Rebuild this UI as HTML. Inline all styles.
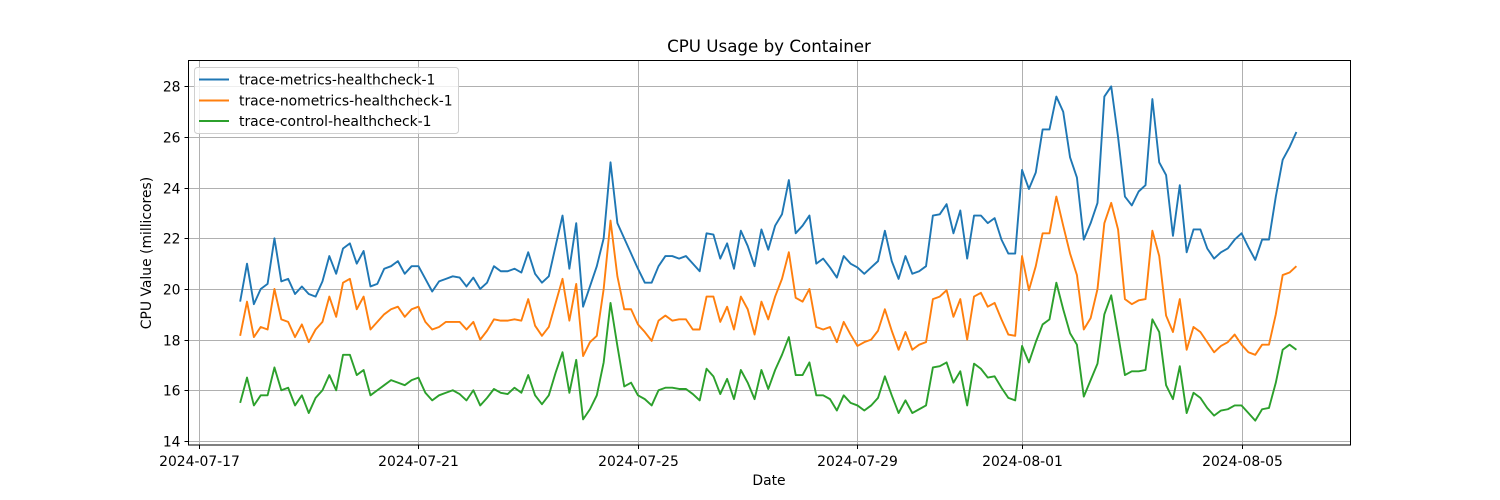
<!DOCTYPE html>
<html><head><meta charset="utf-8"><style>
html,body{margin:0;padding:0;background:#fff;}
svg{display:block;font-family:"DejaVu Sans","Liberation Sans",sans-serif;}
</style></head><body>
<svg id="chart" width="1500" height="500" viewBox="0 0 1500 500">
<rect x="0" y="0" width="1500" height="500" fill="#fff"/>
<g id="grid"></g>
<g id="series"></g>
<rect x="188.5" y="60.5" width="1162" height="384.5" fill="none" stroke="#000" stroke-width="1"/>
<g id="ticks"></g>
<text x="769" y="52" text-anchor="middle" font-size="16.7" fill="#000">CPU Usage by Container</text>
<text x="769" y="485" text-anchor="middle" font-size="13.9" fill="#000">Date</text>
<text x="151" y="253" text-anchor="middle" font-size="13.9" fill="#000" transform="rotate(-90 151 253)">CPU Value (millicores)</text>
<g>
<rect x="194.5" y="67.5" width="264" height="66" rx="3" fill="#fff" fill-opacity="0.8" stroke="#d0d0d0" stroke-width="1"/>
<g><line x1="199" y1="79.5" x2="229" y2="79.5" stroke="#1f77b4" stroke-width="2"/><text x="239" y="84.5" font-size="13.9" fill="#000">trace-metrics-healthcheck-1</text></g>
<g><line x1="199" y1="100.5" x2="229" y2="100.5" stroke="#ff7f0e" stroke-width="2"/><text x="239" y="105.5" font-size="13.9" fill="#000">trace-nometrics-healthcheck-1</text></g>
<g><line x1="199" y1="121" x2="229" y2="121" stroke="#2ca02c" stroke-width="2"/><text x="239" y="126" font-size="13.9" fill="#000">trace-control-healthcheck-1</text></g>
</g>
</svg>
<script>
const startTime = "2024-07-17T18:00"; // first sample, 3-hour interval
const stepHours = 3;
const metrics = [19.5,21.0,19.4,20.0,20.2,22.0,20.3,20.4,19.8,20.1,19.8,19.7,20.3,21.3,20.6,21.6,21.8,21.0,21.5,20.1,20.2,20.8,20.9,21.1,20.6,20.9,20.9,20.4,19.9,20.3,20.4,
20.5,20.45,20.1,20.45,20.0,20.25,20.9,20.7,20.7,20.8,20.65,21.45,20.6,20.25,20.5,21.7,22.9,20.8,22.6,19.3,20.1,20.9,22.0,25.0,22.6,22.0,21.4,20.8,20.25,20.25,
20.9,21.3,21.3,21.2,21.3,21.0,20.7,22.2,22.15,21.2,21.8,20.8,22.3,21.7,20.9,22.35,21.55,22.5,22.95,24.3,22.2,22.5,22.9,21.0,21.2,20.85,20.45,21.3,21.0,20.85,20.6,
20.85,21.1,22.3,21.1,20.4,21.3,20.6,20.7,20.9,22.9,22.95,23.35,22.2,23.1,21.2,22.9,22.9,22.6,22.8,21.95,21.4,21.4,24.7,23.95,24.6,26.3,26.3,27.6,27.0,
25.2,24.4,21.95,22.6,23.4,27.6,28.0,26.0,23.65,23.3,23.85,24.1,27.5,25.0,24.5,22.1,24.1,21.45,22.35,22.35,21.6,21.2,21.45,21.6,21.95,22.2,21.65,21.15,21.95,21.95,23.65,25.1,25.6,26.2];
const nometrics = [18.15,19.5,18.1,18.5,18.4,20.0,18.8,18.7,18.1,18.6,17.9,18.4,18.7,19.7,18.9,20.25,20.4,19.2,19.7,18.4,18.7,19.0,19.2,19.3,18.9,19.2,19.3,18.7,18.4,18.5,18.7,
18.7,18.7,18.4,18.7,18.0,18.35,18.8,18.75,18.75,18.8,18.75,19.6,18.55,18.15,18.5,19.45,20.4,18.75,20.2,17.35,17.9,18.15,20.0,22.7,20.5,19.2,19.2,18.6,18.3,17.95,
18.75,18.95,18.75,18.8,18.8,18.4,18.4,19.7,19.7,18.7,19.3,18.4,19.7,19.2,18.2,19.5,18.8,19.7,20.4,21.45,19.65,19.5,20.0,18.5,18.4,18.5,17.9,18.7,18.2,17.75,17.9,
18.0,18.35,19.2,18.35,17.6,18.3,17.6,17.8,17.9,19.6,19.7,19.95,18.9,19.6,18.0,19.7,19.85,19.3,19.45,18.8,18.2,18.15,21.3,19.95,20.9,22.2,22.2,23.65,22.5,
21.4,20.55,18.4,18.85,20.0,22.6,23.4,22.35,19.6,19.4,19.55,19.6,22.3,21.3,18.95,18.3,19.6,17.6,18.5,18.3,17.9,17.5,17.75,17.9,18.2,17.8,17.5,17.4,17.8,17.8,19.0,20.55,20.65,20.9];
const control = [15.5,16.5,15.4,15.8,15.8,16.9,16.0,16.1,15.4,15.8,15.1,15.7,16.0,16.6,16.0,17.4,17.4,16.6,16.8,15.8,16.0,16.2,16.4,16.3,16.2,16.4,16.5,15.9,15.6,15.8,15.9,
16.0,15.85,15.6,16.0,15.4,15.7,16.05,15.9,15.85,16.1,15.9,16.6,15.8,15.45,15.8,16.7,17.5,15.9,17.2,14.85,15.25,15.8,17.1,19.45,17.75,16.15,16.3,15.8,15.65,15.4,
16.0,16.1,16.1,16.05,16.05,15.85,15.6,16.85,16.55,15.85,16.45,15.65,16.8,16.3,15.65,16.8,16.05,16.8,17.4,18.1,16.6,16.6,17.1,15.8,15.8,15.65,15.2,15.8,15.5,15.4,15.2,
15.4,15.7,16.55,15.8,15.1,15.6,15.1,15.25,15.4,16.9,16.95,17.1,16.3,16.75,15.4,17.05,16.85,16.5,16.55,16.1,15.7,15.6,17.75,17.1,17.9,18.6,18.8,20.25,19.2,
18.25,17.8,15.75,16.4,17.05,19.0,19.75,18.2,16.6,16.75,16.75,16.8,18.8,18.3,16.2,15.65,16.95,15.1,15.9,15.7,15.3,15.0,15.2,15.25,15.4,15.4,15.1,14.8,15.25,15.3,16.3,17.6,17.8,17.6];
const yTicks = [14,16,18,20,22,24,26,28];
const xTickLabels = ["2024-07-17","2024-07-21","2024-07-25","2024-07-29","2024-08-01","2024-08-05"];
const seriesNames = ["trace-metrics-healthcheck-1","trace-nometrics-healthcheck-1","trace-control-healthcheck-1"];

const NS="http://www.w3.org/2000/svg";
const L=188.5,R=1350.5,T=60.5,B=445;
const day0=Date.parse("2024-07-17T00:00Z");
const xPerDay=54.87, x0=199;
function xScale(ms){return x0+(ms-day0)/86400000*xPerDay;}
function yScale(v){return 440.9-(v-14)*25.32;}
function mk(tag,attrs,parent){const e=document.createElementNS(NS,tag);for(const k in attrs)e.setAttribute(k,attrs[k]);parent.appendChild(e);return e;}
const grid=document.getElementById('grid'),ticks=document.getElementById('ticks'),sg=document.getElementById('series');
yTicks.forEach(v=>{
 const y=Math.round(yScale(v))+0.5;
 const gl=mk('line',{x1:L,x2:R,y1:y,y2:y,stroke:'#b0b0b0','stroke-width':1},grid);
 
 
 mk('line',{x1:L-4,x2:L,y1:y,y2:y,stroke:'#000','stroke-width':1},ticks);
 const t=mk('text',{x:L-8,y:y+5,'text-anchor':'end','font-size':13.9,fill:'#000'},ticks);
 t.textContent=String(v);
 
 
});
xTickLabels.forEach(d=>{
 const x=Math.round(xScale(Date.parse(d+"T00:00Z")))+0.5;
 const gl=mk('line',{x1:x,x2:x,y1:T,y2:B,stroke:'#b0b0b0','stroke-width':1},grid);
 
 
 mk('line',{x1:x,x2:x,y1:B,y2:B+4,stroke:'#000','stroke-width':1},ticks);
 const t=mk('text',{x:x,y:B+21,'text-anchor':'middle','font-size':13.9,fill:'#000'},ticks);
 t.textContent=d;
 
 
});
const start=Date.parse(startTime+"Z");
function drawSeries(vals,color,name){
 const pts=vals.map((v,i)=>xScale(start+i*stepHours*3600000).toFixed(2)+","+yScale(v).toFixed(2)).join(" ");
 const p=mk('polyline',{points:pts,fill:'none',stroke:color,'stroke-width':1.9,'stroke-linejoin':'round'},sg);
 
 
}
drawSeries(metrics,'#1f77b4','line-'+seriesNames[0]);
drawSeries(nometrics,'#ff7f0e','line-'+seriesNames[1]);
drawSeries(control,'#2ca02c','line-'+seriesNames[2]);
</script>
</body></html>
